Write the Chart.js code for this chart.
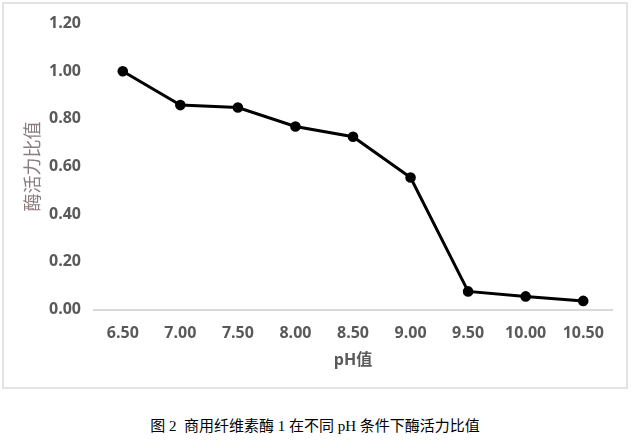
<!DOCTYPE html>
<html>
<head>
<meta charset="utf-8">
<script src="https://cdn.jsdelivr.net/npm/chart.js@4/dist/chart.umd.min.js"></script>
<style>
  html, body { margin: 0; padding: 0; background: #fff; }
  body { width: 634px; height: 444px; position: relative; overflow: hidden; }
  #box { position: absolute; left: 2px; top: 2px; width: 622px; height: 383px; border: 2px solid #e3e3e3; }
  #wrap { position: absolute; left: 0; top: -3.5px; width: 622px; height: 386.5px; }
  #caption { position: absolute; left: 0; width: 630px; top: 414px; text-align: center;
    font-family: "Liberation Serif", "Noto Sans CJK SC", serif; font-size: 15px; color: #000; }
</style>
</head>
<body>
<div id="box"><div id="wrap"><canvas id="c"></canvas></div></div>
<div id="caption">图 2&nbsp; 商用纤维素酶 1 在不同 pH 条件下酶活力比值</div>
<script>
const phLabels = ["6.50", "7.00", "7.50", "8.00", "8.50", "9.00", "9.50", "10.00", "10.50"];
const activityRatio = [1.00, 0.858, 0.848, 0.768, 0.725, 0.554, 0.076, 0.055, 0.036];
const yTitle = "酶活力比值";
const xTitle = "pH值";

const tickFont = { family: "'Open Sans', sans-serif", size: 16, weight: "bold" };

new Chart(document.getElementById("c"), {
  type: "line",
  data: {
    labels: phLabels,
    datasets: [{
      data: activityRatio,
      borderColor: "#000",
      backgroundColor: "#000",
      borderWidth: 3,
      pointRadius: 3.8,
      pointBackgroundColor: "#000",
      pointBorderColor: "#000",
      tension: 0,
      fill: false
    }]
  },
  options: {
    responsive: true,
    maintainAspectRatio: false,
    animation: false,
    layout: { padding: { top: 4, right: 14, bottom: 0, left: 0 } },
    plugins: { legend: { display: false }, tooltip: { enabled: false } },
    scales: {
      x: {
        offset: true,
        grid: { display: false, drawTicks: false },
        border: { display: true, color: "#d9d9d9", width: 2 },
        ticks: { color: "#595959", font: tickFont, padding: 14, maxRotation: 0 },
        title: { display: true, text: xTitle, color: "#595959",
          font: { family: "'Open Sans', 'Noto Sans CJK SC', sans-serif", size: 16, weight: "bold" },
          padding: { top: 4, bottom: 17 } },
        afterFit: s => { s.height = 78; }
      },
      y: {
        min: 0, max: 1.2,
        grid: { display: false, drawTicks: false },
        border: { display: false },
        ticks: { stepSize: 0.2, color: "#595959", font: tickFont, padding: 13,
          callback: v => Number(v).toFixed(2) },
        title: { display: true, text: yTitle, color: "#8a7d7d",
          font: { family: "'Noto Sans CJK SC', sans-serif", size: 18, weight: "normal" },
          padding: { top: 17, bottom: 0 } },
        afterFit: s => { s.width = 90; }
      }
    }
  }
});
</script>
</body>
</html>
